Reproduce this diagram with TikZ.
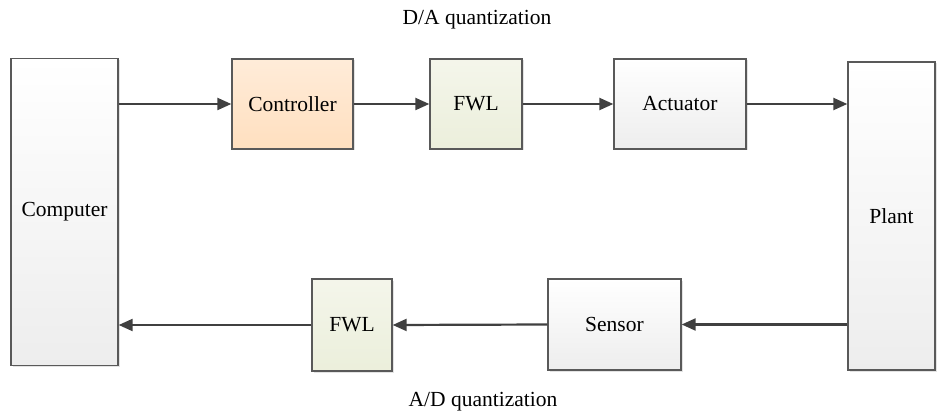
\documentclass[tikz,border=0pt]{standalone}
\usepackage{fontspec}
\setmainfont{Liberation Serif}
\usetikzlibrary{arrows.meta,shadows}
\begin{document}
\begin{tikzpicture}[x=1pt,y=-1pt,
  blk/.style={draw=black!65, line width=1.3pt, inner sep=0pt, font=\fontsize{21.5}{23}\selectfont,
     drop shadow={shadow xshift=1.5pt, shadow yshift=-1.5pt, fill=black!22}},
  plainblk/.style={blk, top color=white, bottom color=black!7},
  ctrlblk/.style={blk, top color=orange!15!white, bottom color=orange!25!white},
  fwlblk/.style={blk, top color=green!6!olive!8!white, bottom color=green!10!olive!14!white},
  conn/.style={draw=black!75, line width=2.2pt, -{Triangle[length=14pt,width=12pt]}},
  lbl/.style={font=\fontsize{21.5}{23}\selectfont}]
\useasboundingbox (0,0) rectangle (938,417);
\node[plainblk, minimum width=107pt, minimum height=307pt] (comp) at (64.5,212) {Computer};
\node[ctrlblk, minimum width=121pt, minimum height=90pt] (ctrl) at (292.5,104) {Controller};
\node[fwlblk, minimum width=92pt, minimum height=90pt] (fwl1) at (476,104) {FWL};
\node[plainblk, minimum width=132pt, minimum height=90pt] (act) at (680,104) {Actuator};
\node[plainblk, minimum width=87pt, minimum height=308pt] (plant) at (891.5,216) {Plant};
\node[fwlblk, minimum width=80pt, minimum height=92pt] (fwl2) at (352,325) {FWL};
\node[plainblk, minimum width=133pt, minimum height=91pt] (sens) at (614.5,324.5) {Sensor};
\node[lbl] (da) at (477,20) {D/A quantization};
\node[lbl] (ad) at (483,402) {A/D quantization};
\draw[conn] (comp.east |- ctrl.west) -- (ctrl.west);
\draw[conn] (ctrl.east) -- (fwl1.west);
\draw[conn] (fwl1.east) -- (act.west);
\draw[conn] (act.east) -- (plant.west |- act.east);
\draw[conn] (plant.west |- sens.east) -- (sens.east);
\draw[conn] (sens.west) -- (fwl2.east);
\draw[conn] (fwl2.west) -- (comp.east |- fwl2.west);
\end{tikzpicture}
\end{document}
